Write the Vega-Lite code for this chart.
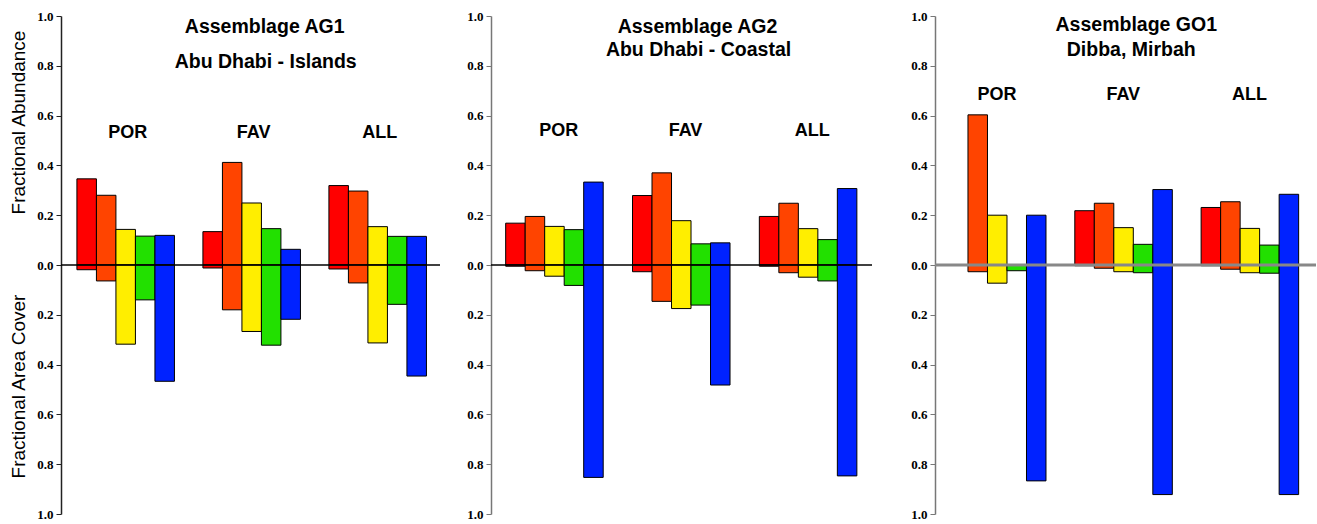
{
  "$schema": "https://vega.github.io/schema/vega-lite/v6.json",
  "background": "white",
  "padding": {"left": 8, "top": 10, "right": 0, "bottom": 0},
  "config": {"view": {"stroke": null}, "font": "Liberation Sans"},
  "datasets": {
    "bars": [
      {"panel": "AG1", "group": "POR", "taxon": "T1", "abundance": 0.346, "cover": 0.019},
      {"panel": "AG1", "group": "POR", "taxon": "T2", "abundance": 0.28, "cover": 0.064},
      {"panel": "AG1", "group": "POR", "taxon": "T3", "abundance": 0.143, "cover": 0.318},
      {"panel": "AG1", "group": "POR", "taxon": "T4", "abundance": 0.116, "cover": 0.14},
      {"panel": "AG1", "group": "POR", "taxon": "T5", "abundance": 0.119, "cover": 0.467},
      {"panel": "AG1", "group": "FAV", "taxon": "T1", "abundance": 0.134, "cover": 0.012},
      {"panel": "AG1", "group": "FAV", "taxon": "T2", "abundance": 0.412, "cover": 0.18},
      {"panel": "AG1", "group": "FAV", "taxon": "T3", "abundance": 0.249, "cover": 0.267},
      {"panel": "AG1", "group": "FAV", "taxon": "T4", "abundance": 0.146, "cover": 0.322},
      {"panel": "AG1", "group": "FAV", "taxon": "T5", "abundance": 0.063, "cover": 0.218},
      {"panel": "AG1", "group": "ALL", "taxon": "T1", "abundance": 0.319, "cover": 0.016},
      {"panel": "AG1", "group": "ALL", "taxon": "T2", "abundance": 0.297, "cover": 0.072},
      {"panel": "AG1", "group": "ALL", "taxon": "T3", "abundance": 0.154, "cover": 0.313},
      {"panel": "AG1", "group": "ALL", "taxon": "T4", "abundance": 0.115, "cover": 0.158},
      {"panel": "AG1", "group": "ALL", "taxon": "T5", "abundance": 0.115, "cover": 0.446},
      {"panel": "AG2", "group": "POR", "taxon": "T1", "abundance": 0.168, "cover": 0.005},
      {"panel": "AG2", "group": "POR", "taxon": "T2", "abundance": 0.195, "cover": 0.023},
      {"panel": "AG2", "group": "POR", "taxon": "T3", "abundance": 0.155, "cover": 0.045},
      {"panel": "AG2", "group": "POR", "taxon": "T4", "abundance": 0.142, "cover": 0.082},
      {"panel": "AG2", "group": "POR", "taxon": "T5", "abundance": 0.333, "cover": 0.853},
      {"panel": "AG2", "group": "FAV", "taxon": "T1", "abundance": 0.279, "cover": 0.027},
      {"panel": "AG2", "group": "FAV", "taxon": "T2", "abundance": 0.37, "cover": 0.146},
      {"panel": "AG2", "group": "FAV", "taxon": "T3", "abundance": 0.178, "cover": 0.175},
      {"panel": "AG2", "group": "FAV", "taxon": "T4", "abundance": 0.085, "cover": 0.161},
      {"panel": "AG2", "group": "FAV", "taxon": "T5", "abundance": 0.089, "cover": 0.482},
      {"panel": "AG2", "group": "ALL", "taxon": "T1", "abundance": 0.195, "cover": 0.005},
      {"panel": "AG2", "group": "ALL", "taxon": "T2", "abundance": 0.248, "cover": 0.031},
      {"panel": "AG2", "group": "ALL", "taxon": "T3", "abundance": 0.146, "cover": 0.049},
      {"panel": "AG2", "group": "ALL", "taxon": "T4", "abundance": 0.102, "cover": 0.064},
      {"panel": "AG2", "group": "ALL", "taxon": "T5", "abundance": 0.307, "cover": 0.847},
      {"panel": "GO1", "group": "POR", "taxon": "T1", "abundance": null, "cover": null},
      {"panel": "GO1", "group": "POR", "taxon": "T2", "abundance": 0.603, "cover": 0.027},
      {"panel": "GO1", "group": "POR", "taxon": "T3", "abundance": 0.2, "cover": 0.073},
      {"panel": "GO1", "group": "POR", "taxon": "T4", "abundance": null, "cover": 0.023},
      {"panel": "GO1", "group": "POR", "taxon": "T5", "abundance": 0.2, "cover": 0.867},
      {"panel": "GO1", "group": "FAV", "taxon": "T1", "abundance": 0.218, "cover": 0.003},
      {"panel": "GO1", "group": "FAV", "taxon": "T2", "abundance": 0.248, "cover": 0.013},
      {"panel": "GO1", "group": "FAV", "taxon": "T3", "abundance": 0.15, "cover": 0.027},
      {"panel": "GO1", "group": "FAV", "taxon": "T4", "abundance": 0.083, "cover": 0.031},
      {"panel": "GO1", "group": "FAV", "taxon": "T5", "abundance": 0.303, "cover": 0.922},
      {"panel": "GO1", "group": "ALL", "taxon": "T1", "abundance": 0.231, "cover": 0.003},
      {"panel": "GO1", "group": "ALL", "taxon": "T2", "abundance": 0.254, "cover": 0.017},
      {"panel": "GO1", "group": "ALL", "taxon": "T3", "abundance": 0.147, "cover": 0.031},
      {"panel": "GO1", "group": "ALL", "taxon": "T4", "abundance": 0.08, "cover": 0.033},
      {"panel": "GO1", "group": "ALL", "taxon": "T5", "abundance": 0.284, "cover": 0.922}
    ],
    "titles": [
      {"panel": "AG1", "line": 1, "text": "Assemblage AG1"},
      {"panel": "AG1", "line": 2, "text": "Abu Dhabi - Islands"},
      {"panel": "AG2", "line": 1, "text": "Assemblage AG2"},
      {"panel": "AG2", "line": 2, "text": "Abu Dhabi - Coastal"},
      {"panel": "GO1", "line": 1, "text": "Assemblage GO1"},
      {"panel": "GO1", "line": 2, "text": "Dibba, Mirbah"}
    ]
  },
  "spacing": 25,
  "hconcat": [
    {
      "width": 379, "height": 498,
      "data": {"name": "bars"},
      "transform": [{"filter": "datum.panel === 'AG1'"}],
      "layer": [
        {"mark": {"type": "bar", "stroke": "black", "strokeWidth": 1},
         "encoding": {
           "x": {"field": "group", "type": "nominal", "scale": {"domain": ["POR", "FAV", "ALL"], "paddingInner": 0.226, "paddingOuter": 0.117, "align": 0.54},
                 "axis": {"title": "Fractional Area Cover", "labels": false, "ticks": false, "domain": false, "titleAngle": -90, "titleX": -43, "titleY": -128, "titleBaseline": "middle", "titleAlign": "center", "titleFont": "Liberation Sans", "titleFontSize": 19, "titleFontWeight": "normal", "titleColor": "black"}},
           "xOffset": {"field": "taxon", "type": "nominal", "scale": {"domain": ["T1", "T2", "T3", "T4", "T5"], "paddingInner": 0, "paddingOuter": 0}},
           "y": {"field": "abundance", "type": "quantitative", "scale": {"domain": [-1, 1], "nice": false},
                 "axis": {"values": [-1, -0.8, -0.6, -0.4, -0.2, 0, 0.2, 0.4, 0.6, 0.8, 1], "labelExpr": "format(abs(datum.value), '.1f')", "grid": false, "title": "Fractional Abundance", "titleFont": "Liberation Sans", "titleFontSize": 19, "titleFontWeight": "normal", "titleColor": "black", "titleX": -43, "titleY": 106, "titleAngle": -90, "titleBaseline": "middle", "titleAlign": "center", "labelFont": "Liberation Serif", "labelFontWeight": "bold", "labelFontSize": 13, "labelColor": "black", "tickColor": "#222", "tickSize": 5, "domainColor": "#222", "domainWidth": 1.5, "labelPadding": 3}},
           "color": {"field": "taxon", "type": "nominal", "scale": {"domain": ["T1", "T2", "T3", "T4", "T5"], "range": ["#FF0000", "#FF4400", "#FFEE00", "#22E000", "#0022FF"]}, "legend": null}
         }},
        {"mark": {"type": "bar", "stroke": "black", "strokeWidth": 1},
         "encoding": {
           "x": {"field": "group", "type": "nominal"},
           "xOffset": {"field": "taxon", "type": "nominal"},
           "y": {"field": "cover", "type": "quantitative", "scale": {"domain": [-1, 1], "nice": false, "reverse": true}, "axis": null},
           "color": {"field": "taxon", "type": "nominal", "legend": null}
         }},
        {"transform": [{"aggregate": [{"op": "count", "as": "n"}]}],
         "mark": {"type": "rule", "color": "black", "strokeWidth": 1.5},
         "encoding": {"y": {"datum": 0, "type": "quantitative", "scale": {"domain": [-1, 1], "nice": false}, "axis": null}}},
        {"transform": [{"aggregate": [{"op": "count", "as": "n"}], "groupby": ["group"]}],
         "mark": {"type": "text", "fontSize": 18, "fontWeight": "bold", "baseline": "middle", "dx": 2},
         "encoding": {"x": {"field": "group", "type": "nominal"}, "y": {"datum": 0.531, "type": "quantitative", "scale": {"domain": [-1, 1], "nice": false}, "axis": null}, "text": {"field": "group"}}},
        {"data": {"name": "titles"}, "transform": [{"filter": "datum.panel === 'AG1' && datum.line === 1"}],
         "mark": {"type": "text", "fontSize": 19.5, "fontWeight": "bold", "baseline": "middle", "dx": 13},
         "encoding": {"x": {"datum": "FAV", "type": "nominal"}, "y": {"datum": 0.957, "type": "quantitative", "scale": {"domain": [-1, 1], "nice": false}, "axis": null}, "text": {"field": "text"}}},
        {"data": {"name": "titles"}, "transform": [{"filter": "datum.panel === 'AG1' && datum.line === 2"}],
         "mark": {"type": "text", "fontSize": 19.5, "fontWeight": "bold", "baseline": "middle", "dx": 14},
         "encoding": {"x": {"datum": "FAV", "type": "nominal"}, "y": {"datum": 0.816, "type": "quantitative", "scale": {"domain": [-1, 1], "nice": false}, "axis": null}, "text": {"field": "text"}}}
      ],
      "resolve": {"scale": {"y": "independent"}}
    },
    {
      "spacing": 37,
      "hconcat": [
        {
          "width": 381, "height": 498,
          "data": {"name": "bars"},
          "transform": [{"filter": "datum.panel === 'AG2'"}],
          "layer": [
            {"mark": {"type": "bar", "stroke": "black", "strokeWidth": 1},
             "encoding": {
               "x": {"field": "group", "type": "nominal", "scale": {"domain": ["POR", "FAV", "ALL"], "paddingInner": 0.322, "paddingOuter": 0.163, "align": 0.355}, "axis": null},
               "xOffset": {"field": "taxon", "type": "nominal", "scale": {"domain": ["T1", "T2", "T3", "T4", "T5"], "paddingInner": 0, "paddingOuter": 0}},
               "y": {"field": "abundance", "type": "quantitative", "scale": {"domain": [-1, 1], "nice": false},
                     "axis": {"values": [-1, -0.8, -0.6, -0.4, -0.2, 0, 0.2, 0.4, 0.6, 0.8, 1], "labelExpr": "format(abs(datum.value), '.1f')", "grid": false, "title": null, "labelFont": "Liberation Serif", "labelFontWeight": "bold", "labelFontSize": 13, "labelColor": "black", "tickColor": "#777", "tickSize": 5, "domainColor": "#777", "domainWidth": 1.5, "labelPadding": 3}},
               "color": {"field": "taxon", "type": "nominal", "scale": {"domain": ["T1", "T2", "T3", "T4", "T5"], "range": ["#FF0000", "#FF4400", "#FFEE00", "#22E000", "#0022FF"]}, "legend": null}
             }},
            {"mark": {"type": "bar", "stroke": "black", "strokeWidth": 1},
             "encoding": {
               "x": {"field": "group", "type": "nominal"},
               "xOffset": {"field": "taxon", "type": "nominal"},
               "y": {"field": "cover", "type": "quantitative", "scale": {"domain": [-1, 1], "nice": false, "reverse": true}, "axis": null},
               "color": {"field": "taxon", "type": "nominal", "legend": null}
             }},
            {"transform": [{"aggregate": [{"op": "count", "as": "n"}]}],
             "mark": {"type": "rule", "color": "black", "strokeWidth": 1.5},
             "encoding": {"y": {"datum": 0, "type": "quantitative", "scale": {"domain": [-1, 1], "nice": false}, "axis": null}}},
            {"transform": [{"aggregate": [{"op": "count", "as": "n"}], "groupby": ["group"]}],
             "mark": {"type": "text", "fontSize": 18, "fontWeight": "bold", "baseline": "middle", "dx": 10},
             "encoding": {"x": {"field": "group", "type": "nominal"}, "y": {"datum": 0.537, "type": "quantitative", "scale": {"domain": [-1, 1], "nice": false}, "axis": null}, "text": {"field": "group"}}},
            {"data": {"name": "titles"}, "transform": [{"filter": "datum.panel === 'AG2' && datum.line === 1"}],
             "mark": {"type": "text", "fontSize": 19.5, "fontWeight": "bold", "baseline": "middle", "dx": 22},
             "encoding": {"x": {"datum": "FAV", "type": "nominal"}, "y": {"datum": 0.957, "type": "quantitative", "scale": {"domain": [-1, 1], "nice": false}, "axis": null}, "text": {"field": "text"}}},
            {"data": {"name": "titles"}, "transform": [{"filter": "datum.panel === 'AG2' && datum.line === 2"}],
             "mark": {"type": "text", "fontSize": 19.5, "fontWeight": "bold", "baseline": "middle", "dx": 23},
             "encoding": {"x": {"datum": "FAV", "type": "nominal"}, "y": {"datum": 0.863, "type": "quantitative", "scale": {"domain": [-1, 1], "nice": false}, "axis": null}, "text": {"field": "text"}}}
          ],
          "resolve": {"scale": {"y": "independent"}}
        },
        {
          "width": 381, "height": 498,
          "data": {"name": "bars"},
          "transform": [{"filter": "datum.panel === 'GO1'"}],
          "layer": [
            {"mark": {"type": "bar", "stroke": "black", "strokeWidth": 1},
             "encoding": {
               "x": {"field": "group", "type": "nominal", "scale": {"domain": ["POR", "FAV", "ALL"], "paddingInner": 0.328, "paddingOuter": 0.172, "align": 0.31}, "axis": null},
               "xOffset": {"field": "taxon", "type": "nominal", "scale": {"domain": ["T1", "T2", "T3", "T4", "T5"], "paddingInner": 0, "paddingOuter": 0}},
               "y": {"field": "abundance", "type": "quantitative", "scale": {"domain": [-1, 1], "nice": false},
                     "axis": {"values": [-1, -0.8, -0.6, -0.4, -0.2, 0, 0.2, 0.4, 0.6, 0.8, 1], "labelExpr": "format(abs(datum.value), '.1f')", "grid": false, "title": null, "labelFont": "Liberation Serif", "labelFontWeight": "bold", "labelFontSize": 13, "labelColor": "black", "tickColor": "#777", "tickSize": 5, "domainColor": "#777", "domainWidth": 1.5, "labelPadding": 3}},
               "color": {"field": "taxon", "type": "nominal", "scale": {"domain": ["T1", "T2", "T3", "T4", "T5"], "range": ["#FF0000", "#FF4400", "#FFEE00", "#22E000", "#0022FF"]}, "legend": null}
             }},
            {"mark": {"type": "bar", "stroke": "black", "strokeWidth": 1},
             "encoding": {
               "x": {"field": "group", "type": "nominal"},
               "xOffset": {"field": "taxon", "type": "nominal"},
               "y": {"field": "cover", "type": "quantitative", "scale": {"domain": [-1, 1], "nice": false, "reverse": true}, "axis": null},
               "color": {"field": "taxon", "type": "nominal", "legend": null}
             }},
            {"transform": [{"aggregate": [{"op": "count", "as": "n"}]}],
             "mark": {"type": "rule", "color": "#888888", "strokeWidth": 3},
             "encoding": {"y": {"datum": 0, "type": "quantitative", "scale": {"domain": [-1, 1], "nice": false}, "axis": null}}},
            {"transform": [{"aggregate": [{"op": "count", "as": "n"}], "groupby": ["group"]}],
             "mark": {"type": "text", "fontSize": 18, "fontWeight": "bold", "baseline": "middle", "dx": 6},
             "encoding": {"x": {"field": "group", "type": "nominal"}, "y": {"datum": 0.683, "type": "quantitative", "scale": {"domain": [-1, 1], "nice": false}, "axis": null}, "text": {"field": "group"}}},
            {"data": {"name": "titles"}, "transform": [{"filter": "datum.panel === 'GO1' && datum.line === 1"}],
             "mark": {"type": "text", "fontSize": 19.5, "fontWeight": "bold", "baseline": "middle", "dx": 19},
             "encoding": {"x": {"datum": "FAV", "type": "nominal"}, "y": {"datum": 0.964, "type": "quantitative", "scale": {"domain": [-1, 1], "nice": false}, "axis": null}, "text": {"field": "text"}}},
            {"data": {"name": "titles"}, "transform": [{"filter": "datum.panel === 'GO1' && datum.line === 2"}],
             "mark": {"type": "text", "fontSize": 19.5, "fontWeight": "bold", "baseline": "middle", "dx": 14},
             "encoding": {"x": {"datum": "FAV", "type": "nominal"}, "y": {"datum": 0.864, "type": "quantitative", "scale": {"domain": [-1, 1], "nice": false}, "axis": null}, "text": {"field": "text"}}}
          ],
          "resolve": {"scale": {"y": "independent"}}
        }
      ]
    }
  ]
}
